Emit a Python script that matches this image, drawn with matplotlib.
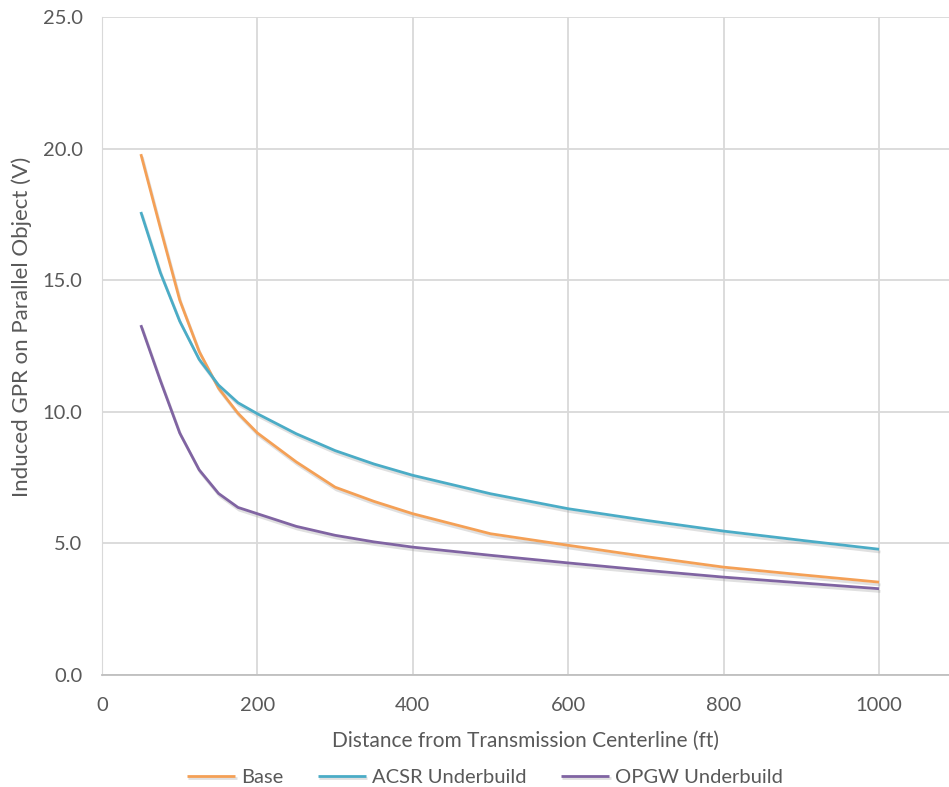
import matplotlib.pyplot as plt
import matplotlib.patheffects as pe

# distances (ft) and induced GPR values (V)
distance = [50, 75, 100, 125, 150, 175, 200, 250, 300, 350, 400, 500, 600, 700, 800, 900, 1000]
base = [19.8, 17.0, 14.25, 12.3, 10.9, 9.95, 9.2, 8.1, 7.14, 6.6, 6.13, 5.37, 4.93, 4.5, 4.1, 3.81, 3.53]
acsr = [17.6, 15.3, 13.45, 12.0, 11.02, 10.35, 9.93, 9.17, 8.53, 8.02, 7.59, 6.89, 6.32, 5.88, 5.47, 5.12, 4.78]
opgw = [13.3, 11.2, 9.2, 7.8, 6.9, 6.37, 6.13, 5.65, 5.31, 5.06, 4.86, 4.55, 4.26, 3.98, 3.72, 3.5, 3.28]

series = [
    ("Base", base, "#F4A056"),
    ("ACSR Underbuild", acsr, "#4BACC6"),
    ("OPGW Underbuild", opgw, "#8064A2"),
]
y_ticks = [0, 5, 10, 15, 20, 25]
x_ticks = [0, 200, 400, 600, 800, 1000]

plt.rcParams["font.family"] = ["Lato", "DejaVu Sans"]
texte = "#595959"

fig = plt.figure(figsize=(9.49, 7.87), dpi=100)
ax = fig.add_axes([0.1075, 0.1423, 0.8925, 0.8357])

ombre = [pe.SimpleLineShadow(offset=(1, -2), shadow_color="#999999", alpha=0.3),
         pe.Normal()]
for nom, valeurs, couleur in series:
    ax.plot(distance, valeurs, color=couleur, lw=2, label=nom,
            path_effects=ombre, solid_capstyle="butt", solid_joinstyle="round")

ax.set_xlim(0, 1090)
ax.set_ylim(0, 25)
ax.set_xticks(x_ticks)
ax.set_yticks(y_ticks)
ax.set_yticklabels([f"{v:.1f}" for v in y_ticks])
ax.grid(True, color="#D9D9D9", lw=1.3)
ax.set_axisbelow(True)
for cote in ["top", "right"]:
    ax.spines[cote].set_visible(False)
ax.spines["left"].set_color("#D9D9D9")
ax.spines["bottom"].set_color("#BFBFBF")
ax.spines["bottom"].set_linewidth(1.3)
ax.tick_params(length=0, labelsize=14.5, labelcolor=texte)
ax.tick_params(axis="y", pad=14)
ax.tick_params(axis="x", pad=16)

ax.set_xlabel("Distance from Transmission Centerline (ft)", fontsize=15,
              color=texte, labelpad=12)
ax.set_ylabel("Induced GPR on Parallel Object (V)", fontsize=16,
              color=texte)
ax.yaxis.set_label_coords(-0.083, 0.529)

fig.legend(loc="center", bbox_to_anchor=(0.511, 0.0127), ncol=3,
           frameon=False, fontsize=14.5, labelcolor=texte, handlelength=2.4,
           columnspacing=1.7, handletextpad=0.3, borderaxespad=0)

fig.savefig("out.png", dpi=100)
